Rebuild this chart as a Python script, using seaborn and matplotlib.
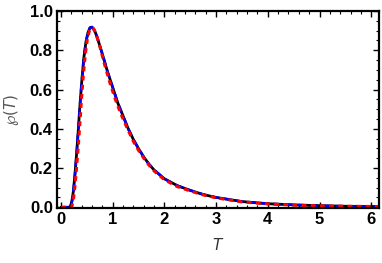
import numpy as np
import pandas as pd
import matplotlib
matplotlib.use("Agg")
import matplotlib.pyplot as plt
from matplotlib.ticker import MultipleLocator
import seaborn as sns

# values
t_exact = [0.0, 0.15, 0.18, 0.21, 0.24, 0.27, 0.30, 0.33, 0.36, 0.40, 0.44, 0.48,
           0.52, 0.56, 0.60, 0.65, 0.70, 0.80, 0.90, 1.00, 1.10, 1.20, 1.30, 1.40,
           1.50, 1.60, 1.70, 1.80, 2.00, 2.25, 2.50, 2.75, 3.00, 3.50, 4.00, 4.50,
           5.00, 5.50, 6.00, 6.20]
p_exact = [0.0, 0.0, 0.005, 0.03, 0.085, 0.17, 0.27, 0.38, 0.50, 0.64, 0.76, 0.84,
           0.89, 0.915, 0.918, 0.90, 0.865, 0.78, 0.69, 0.61, 0.53, 0.465, 0.40, 0.345,
           0.298, 0.256, 0.22, 0.19, 0.145, 0.11, 0.086, 0.065, 0.05, 0.029, 0.018, 0.012,
           0.008, 0.005, 0.004, 0.003]

t_approx = [0.0, 0.18, 0.21, 0.24, 0.27, 0.30, 0.33, 0.36, 0.39, 0.43, 0.47, 0.51,
            0.55, 0.59, 0.63, 0.68, 0.75, 0.85, 0.95, 1.05, 1.15, 1.25, 1.40, 1.50,
            1.60, 1.70, 1.80, 2.00, 2.25, 2.50, 2.75, 3.00, 3.50, 4.00, 4.50, 5.00,
            5.50, 6.00, 6.20]
p_approx = [0.0, 0.0, 0.005, 0.04, 0.11, 0.20, 0.30, 0.41, 0.53, 0.67, 0.78, 0.86,
            0.90, 0.915, 0.91, 0.88, 0.82, 0.72, 0.63, 0.55, 0.48, 0.42, 0.335, 0.29,
            0.25, 0.215, 0.185, 0.14, 0.105, 0.083, 0.063, 0.048, 0.027, 0.017, 0.011,
            0.007, 0.005, 0.004, 0.003]

df_exact = pd.DataFrame({"T": t_exact, "P": p_exact})
df_approx = pd.DataFrame({"T": t_approx, "P": p_approx})

sns.set_theme(style="ticks")
plt.rcParams["font.family"] = ["Liberation Sans", "DejaVu Sans"]
plt.rcParams["mathtext.fontset"] = "dejavusans"

fig = plt.figure(figsize=(3.82, 2.63), dpi=100)
ax = fig.add_axes([0.149, 0.209, 0.843, 0.749])

sns.lineplot(data=df_exact, x="T", y="P", ax=ax, color="black", lw=2.0)
sns.lineplot(data=df_exact, x="T", y="P", ax=ax, color="blue", lw=1.8,
             linestyle=(0, (3, 2)))
sns.lineplot(data=df_approx, x="T", y="P", ax=ax, color="red", lw=2.2,
             linestyle=(0, (1.6, 1.4)))

ax.set_xlim(-0.08, 6.15)
ax.set_ylim(-0.004, 1.0)
ax.xaxis.set_major_locator(MultipleLocator(1))
ax.xaxis.set_minor_locator(MultipleLocator(0.2))
ax.yaxis.set_major_locator(MultipleLocator(0.2))
ax.yaxis.set_minor_locator(MultipleLocator(0.05))
ax.yaxis.set_major_formatter(plt.FuncFormatter(lambda v, p: f"{v:.1f}"))

ax.tick_params(which="both", direction="in", top=True, right=True, color="black")
ax.tick_params(which="major", length=4, width=1)
ax.tick_params(which="minor", length=2, width=0.8)
ax.tick_params(axis="both", labelsize=12, pad=3, labelcolor="black")
for lab in ax.get_xticklabels() + ax.get_yticklabels():
    lab.set_fontweight("bold")
for sp in ax.spines.values():
    sp.set_linewidth(1.6)
    sp.set_color("black")

ax.set_xlabel(r"$T$", fontsize=11, labelpad=7, color="#333333")
ax.set_ylabel(r"$\wp(T)$", fontsize=11, labelpad=6, color="#555555")

plt.savefig("out.png", dpi=100)
